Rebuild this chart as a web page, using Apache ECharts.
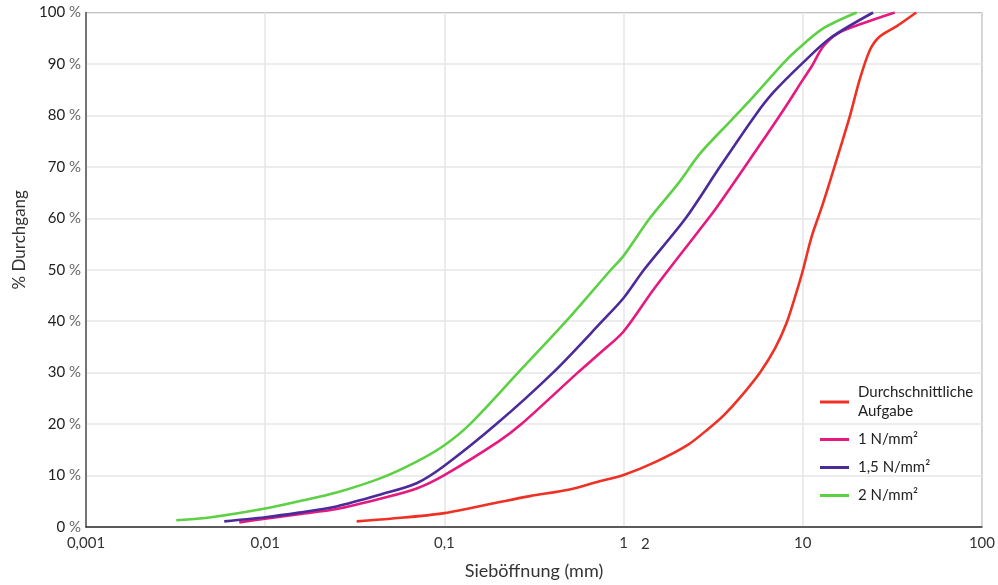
<!DOCTYPE html>
<html>
<head>
<meta charset="utf-8">
<script src="https://cdn.jsdelivr.net/npm/echarts@6/dist/echarts.min.js"></script>
<style>
html,body{margin:0;padding:0;background:#fff;}
#chart{width:998px;height:585px;}
</style>
</head>
<body>
<div id="chart"></div>
<script>
// Series names
const seriesNames = ['Durchschnittliche\nAufgabe', '1 N/mm²', '1,5 N/mm²', '2 N/mm²'];

// [sieve opening (mm), % passing]
const durchschnitt = [[0.0324,1.1],[0.05,1.6],[0.1,2.7],[0.2,4.8],[0.3,6.0],[0.5,7.3],[0.72,8.8],[1,10.1],[1.5,12.6],[2.27,15.9],[3.0,19.2],[3.62,21.7],[4.5,25.3],[5.79,30.1],[7,34.7],[8.15,39.8],[9.2,45.5],[10,49.8],[11.2,56.4],[13,63],[16.1,73.4],[18.3,79.8],[20.8,87],[23.7,92.7],[26.8,95.3],[33.3,97.3],[43,100]];
const n1 = [[0.00717,0.9],[0.01,1.6],[0.01545,2.5],[0.025,3.5],[0.0449,5.6],[0.07,7.5],[0.1,10.1],[0.2,16.6],[0.269,20],[0.555,30],[0.75,34],[1,38],[1.48,46.3],[2.58,57.2],[3.26,61.8],[5.54,73.4],[7.82,81.1],[10,86.9],[11.2,89.5],[13,93.4],[15.8,96],[21.7,97.9],[32.6,100]];
const n15 = [[0.00591,1.1],[0.01,1.9],[0.01545,2.8],[0.025,4.0],[0.0449,6.4],[0.07,8.5],[0.1,11.9],[0.195,20],[0.404,30],[0.76,40],[1,44.5],[1.30,50],[2.22,60],[3.45,70],[5.43,80],[6.87,84.5],[10,90.2],[14.2,95],[24.7,100]];
const n2 = [[0.00319,1.3],[0.005,1.9],[0.01,3.6],[0.01545,5.0],[0.025,6.7],[0.0449,9.6],[0.07,12.7],[0.1,15.9],[0.139,20],[0.258,30],[0.478,40],[0.85,50],[1,52.7],[1.4,60],[2,66.6],[2.69,72.7],[4,79.1],[5.32,83.7],[7.82,90.2],[9.26,92.7],[13,96.9],[20,100]];

const colors = ['#ee3124', '#e6197e', '#4b2a9a', '#5bd143'];
const seriesData = [durchschnitt, n1, n15, n2];

const FONT = 'Lato, "Noto Sans", sans-serif';
const chart = echarts.init(document.getElementById('chart'), null, {renderer: 'canvas'});

chart.setOption({
  animation: false,
  backgroundColor: '#fff',
  color: colors,
  grid: {left: 86, right: 12, top: 12.5, bottom: 56, show: true, borderColor: '#555', borderWidth: 1, containLabel: false},
  legend: {
    orient: 'vertical',
    left: 815,
    top: 378,
    itemGap: 9,
    itemWidth: 29,
    itemHeight: 3,
    icon: 'rect',
    data: seriesNames,
    textStyle: {fontFamily: FONT, fontSize: 15, color: '#222', lineHeight: 19, padding: [0,0,0,4]}
  },
  xAxis: {
    type: 'log',
    logBase: 10,
    min: 0.001,
    max: 100,
    name: 'Sieböffnung (mm)',
    nameLocation: 'middle',
    nameGap: 35,
    nameTextStyle: {fontFamily: FONT, fontSize: 18, color: '#333'},
    axisLine: {lineStyle: {color: '#333', width: 1.5}},
    axisTick: {show: false},
    splitLine: {show: true, lineStyle: {color: '#e6e6e6', width: 1.5}},
    axisLabel: {
      fontFamily: FONT, fontSize: 15, color: '#333', margin: 9,
      formatter: function (v) { return String(+v.toPrecision(6)).replace('.', ','); }
    }
  },
  yAxis: {
    type: 'value',
    min: 0,
    max: 100,
    interval: 10,
    name: '% Durchgang',
    nameLocation: 'middle',
    nameGap: 57,
    nameTextStyle: {fontFamily: FONT, fontSize: 17, color: '#333', padding: [0, 0, 0, 60]},
    axisLine: {show: true, lineStyle: {color: '#555', width: 1.5}},
    axisTick: {show: false},
    splitLine: {show: true, lineStyle: {color: '#e6e6e6', width: 1.5}},
    axisLabel: {
      fontFamily: FONT, fontSize: 15, margin: 5,
      formatter: function (v) { return '{n|' + v + '} {p|%}'; },
      rich: {n: {fontFamily: FONT, fontSize: 15, color: '#222'}, p: {fontFamily: FONT, fontSize: 15, color: '#666'}}
    }
  },
  graphic: [{
    type: 'text', left: 641, top: 537,
    style: {text: '2', font: '15px ' + FONT, fill: '#333'}
  }],
  series: seriesData.map((d, i) => ({
    name: seriesNames[i],
    type: 'line',
    data: d,
    smooth: 0.3,
    showSymbol: false,
    lineStyle: {width: 2.6, color: colors[i]},
    itemStyle: {color: colors[i]}
  }))
});
</script>
</body>
</html>
